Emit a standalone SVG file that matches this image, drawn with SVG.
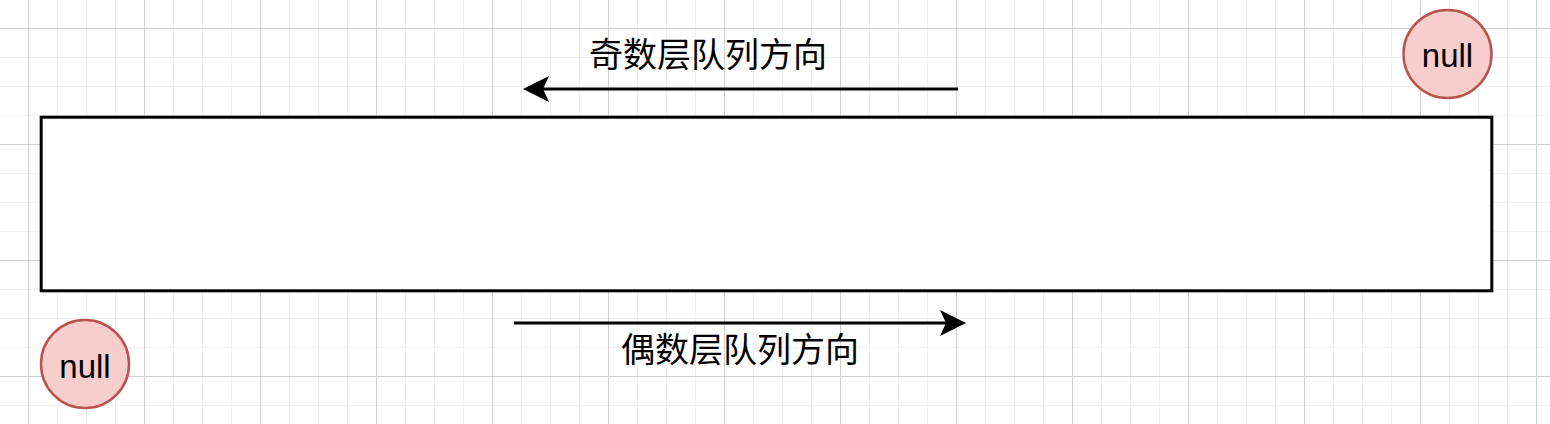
<svg xmlns="http://www.w3.org/2000/svg" width="1550" height="424" viewBox="0 0 1550 424">
  <style>
    .null-circle { fill: #f8cecc; stroke: #b85450; stroke-width: 2.5; }
    .null-text { font-family: "Liberation Sans", Arial, sans-serif; font-size: 33px; fill: #000; text-anchor: middle; }
    .label { font-family: "Noto Sans CJK SC", "Liberation Sans", sans-serif; font-size: 34px; fill: #000; text-anchor: middle; }
    .arrow { stroke: #000; stroke-width: 3; fill: none; }
    .minor { stroke: #f0f0f0; stroke-width: 1; }
    .major { stroke: #d0d0d0; stroke-width: 1; }
  </style>
  <defs>
    <pattern id="grid" patternUnits="userSpaceOnUse" x="28" y="28" width="116" height="116">
      <line class="minor" x1="29.5" y1="0" x2="29.5" y2="116"/>
      <line class="minor" x1="58.5" y1="0" x2="58.5" y2="116"/>
      <line class="minor" x1="87.5" y1="0" x2="87.5" y2="116"/>
      <line class="minor" x1="0" y1="29.5" x2="116" y2="29.5"/>
      <line class="minor" x1="0" y1="58.5" x2="116" y2="58.5"/>
      <line class="minor" x1="0" y1="87.5" x2="116" y2="87.5"/>
      <line class="major" x1="0.5" y1="0" x2="0.5" y2="116"/>
      <line class="major" x1="0" y1="0.5" x2="116" y2="0.5"/>
    </pattern>
    <marker id="arrowhead" markerUnits="userSpaceOnUse" viewBox="0 0 26 26" markerWidth="26" markerHeight="26" refX="6" refY="13" orient="auto">
      <path d="M0,0 L26,13 L0,26 L6,13 Z" fill="#000"/>
    </marker>
  </defs>
  <rect x="0" y="0" width="1550" height="424" fill="#ffffff"/>
  <rect x="0" y="0" width="1550" height="424" fill="url(#grid)"/>

  <g id="queue-box">
    <rect x="41.2" y="117.2" width="1450.6" height="173.6" fill="#ffffff" stroke="#000" stroke-width="3"/>
  </g>

  <g id="null-top">
    <circle class="null-circle" cx="1447.5" cy="54" r="44"/>
    <text class="null-text" x="1447.5" y="67">null</text>
  </g>

  <g id="null-bottom">
    <circle class="null-circle" cx="85" cy="364" r="44"/>
    <text class="null-text" x="85" y="378">null</text>
  </g>

  <g id="label-odd">
    <text class="label" x="708" y="67">奇数层队列方向</text>
  </g>

  <g id="label-even">
    <text class="label" x="740" y="362">偶数层队列方向</text>
  </g>

  <g id="connectors">
    <line class="arrow" x1="958" y1="89" x2="543" y2="89" marker-end="url(#arrowhead)"/>
    <line class="arrow" x1="514" y1="323" x2="946" y2="323" marker-end="url(#arrowhead)"/>
  </g>
</svg>
